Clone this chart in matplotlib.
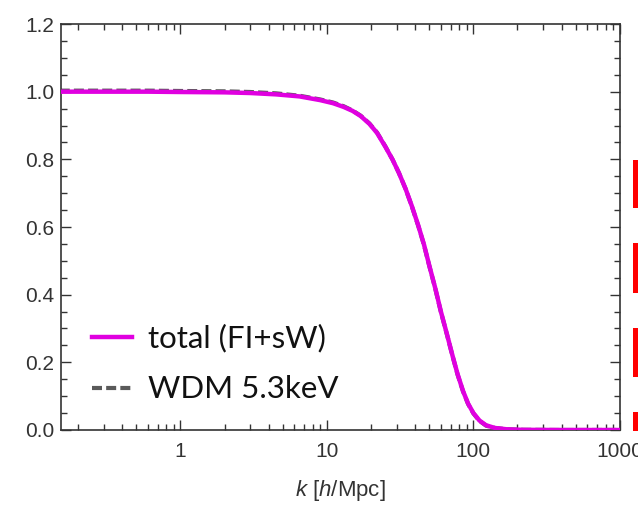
import numpy as np
import matplotlib.pyplot as plt
from matplotlib.ticker import FixedLocator, LogLocator, NullFormatter, MultipleLocator
from matplotlib.patches import Rectangle

plt.rcParams['mathtext.fontset'] = 'custom'
plt.rcParams['mathtext.it'] = 'Liberation Sans:italic'
plt.rcParams['mathtext.rm'] = 'Liberation Sans'

# wavenumber k [h/Mpc] and transfer functions
k = [0.15, 0.3, 0.6, 1.0, 2.0, 3.0, 4.5, 6.5, 9.0, 11.0, 13.0, 15.0, 17.0, 19.5,
     22.0, 25.0, 28.0, 31.0, 34.5, 38.0, 42.0, 46.0, 50.0, 55.0, 60.0, 66.0,
     72.0, 78.0, 85.0, 92.0, 100.0, 110.0, 122.0, 140.0, 170.0, 220.0, 400.0, 1000.0]
T_total = [1.0, 1.0, 1.0, 0.999, 0.998, 0.996, 0.992, 0.986, 0.975, 0.966, 0.955,
           0.943, 0.928, 0.905, 0.878, 0.838, 0.800, 0.760, 0.712, 0.662, 0.605,
           0.548, 0.486, 0.418, 0.350, 0.283, 0.220, 0.165, 0.115, 0.078, 0.050,
           0.028, 0.014, 0.006, 0.002, 0.0005, 0.0, 0.0]
T_wdm = [1.003, 1.003, 1.003, 1.002, 1.001, 0.999, 0.995, 0.988, 0.977, 0.968, 0.957,
         0.944, 0.929, 0.906, 0.879, 0.839, 0.800, 0.760, 0.712, 0.661, 0.604,
         0.547, 0.485, 0.417, 0.349, 0.282, 0.219, 0.164, 0.114, 0.077, 0.049,
         0.027, 0.013, 0.006, 0.002, 0.0005, 0.0, 0.0]

xticks = [1, 10, 100, 1000]
xticklabels = ['1', '10', '100', '1000']
yticks = [0.0, 0.2, 0.4, 0.6, 0.8, 1.0, 1.2]

fig = plt.figure(figsize=(6.38, 5.13), dpi=100)
ax = fig.add_axes([0.0956, 0.1618, 0.876, 0.7914])

ax.plot(k, T_wdm, color='#5a5a5a', lw=3.0, ls=(0, (2.4, 1.0)), label='WDM 5.3keV', zorder=2)
ax.plot(k, T_total, color='#e000e0', lw=3.2, label='total (FI+sW)', zorder=3)

ax.set_xscale('log')
ax.set_xlim(0.153, 1000)
ax.set_ylim(0, 1.2)

dark = '#333333'
ax.xaxis.set_major_locator(FixedLocator(xticks))
ax.set_xticklabels(xticklabels)
ax.xaxis.set_minor_locator(LogLocator(base=10, subs=np.arange(2, 10)))
ax.xaxis.set_minor_formatter(NullFormatter())
ax.set_yticks(yticks)
ax.set_yticklabels(['%.1f' % v for v in yticks])
ax.yaxis.set_minor_locator(MultipleLocator(0.05))

ax.tick_params(which='both', direction='in', top=True, right=True, color=dark, width=1.0)
ax.tick_params(which='major', length=7, labelsize=15, labelcolor=dark)
ax.tick_params(which='minor', length=4)
ax.tick_params(axis='x', which='major', pad=9)
ax.tick_params(axis='y', which='major', pad=5)
for s in ax.spines.values():
    s.set_color(dark)
    s.set_linewidth(1.2)

for lab in ax.get_xticklabels() + ax.get_yticklabels():
    lab.set_family('Liberation Sans')

ax.set_xlabel(r'$k$ [$h$/Mpc]', fontsize=16, color=dark, labelpad=12,
              family='Liberation Sans')

h, l = ax.get_legend_handles_labels()
leg = ax.legend(h[::-1], l[::-1], loc='lower left', bbox_to_anchor=(0.006, -0.004),
                frameon=False, handlelength=1.28, handletextpad=0.5,
                labelspacing=0.73, prop={'family': 'Lato', 'size': 22.5})
for t in leg.get_texts():
    t.set_color('#111111')

# red strokes at the right edge
W, H = 638, 513
for y0, y1 in [(160, 208), (243, 293), (328, 377), (412, 431)]:
    fig.add_artist(Rectangle((633 / W, (H - y1) / H), 6 / W, (y1 - y0) / H,
                             transform=fig.transFigure, color='#ff0000', lw=0))

fig.savefig('out.png', dpi=100)
